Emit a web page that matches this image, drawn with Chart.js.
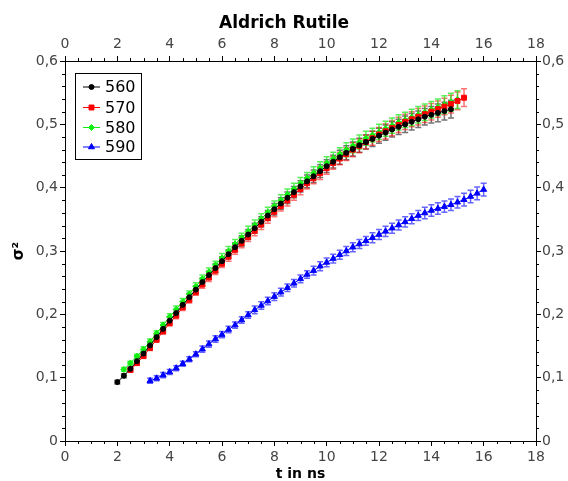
<!DOCTYPE html>
<html>
<head>
<meta charset="utf-8">
<script src="https://cdn.jsdelivr.net/npm/chart.js@4/dist/chart.umd.min.js"></script>
<style>
  html, body { margin: 0; background: #fff; }
  #wrap { width: 568px; height: 481px; }
</style>
</head>
<body>
<div id="wrap"><canvas id="c"></canvas></div>
<script>
// Aldrich Rutile: sigma^2 vs time for four temperatures, with error bars.

const times = [
  2, 2.25, 2.5, 2.75, 3, 3.25, 3.5, 3.75, 4, 4.25, 4.5, 4.75, 5, 5.25, 5.5, 5.75,
  6, 6.25, 6.5, 6.75, 7, 7.25, 7.5, 7.75, 8, 8.25, 8.5, 8.75, 9, 9.25, 9.5, 9.75,
  10, 10.25, 10.5, 10.75, 11, 11.25, 11.5, 11.75, 12, 12.25, 12.5, 12.75, 13, 13.25,
  13.5, 13.75, 14, 14.25, 14.5, 14.75, 15, 15.25, 15.5, 15.75, 16,
];

// values aligned with `times`, null where the series has no point
const s560 = [
  0.093, 0.103, 0.114, 0.126, 0.138, 0.151, 0.164, 0.177, 0.190, 0.202, 0.215, 0.227,
  0.239, 0.251, 0.262, 0.273, 0.284, 0.295, 0.306, 0.316, 0.326, 0.336, 0.346, 0.356,
  0.366, 0.375, 0.384, 0.393, 0.402, 0.410, 0.418, 0.426, 0.434, 0.441, 0.448, 0.455,
  0.461, 0.467, 0.472, 0.477, 0.482, 0.487, 0.492, 0.496, 0.500, 0.504, 0.508, 0.512,
  0.515, 0.518, 0.521, 0.524, null, null, null, null, null,
];
const s570 = [
  null, null, 0.112, 0.123, 0.134, 0.147, 0.160, 0.173, 0.186, 0.198, 0.211, 0.223,
  0.235, 0.247, 0.258, 0.269, 0.280, 0.291, 0.302, 0.312, 0.322, 0.332, 0.342, 0.352,
  0.362, 0.371, 0.380, 0.389, 0.398, 0.407, 0.415, 0.423, 0.431, 0.439, 0.446, 0.453,
  0.460, 0.466, 0.472, 0.478, 0.484, 0.489, 0.494, 0.499, 0.504, 0.508, 0.512, 0.516,
  0.520, 0.524, 0.528, 0.532, 0.537, 0.542, null, null, null,
];
const s580 = [
  null, 0.113, 0.123, 0.134, 0.145, 0.157, 0.170, 0.183, 0.196, 0.208, 0.220, 0.232,
  0.244, 0.256, 0.267, 0.278, 0.289, 0.300, 0.311, 0.321, 0.331, 0.341, 0.351, 0.361,
  0.371, 0.380, 0.389, 0.398, 0.407, 0.415, 0.423, 0.431, 0.439, 0.446, 0.453, 0.460,
  0.466, 0.472, 0.478, 0.483, 0.488, 0.493, 0.498, 0.503, 0.507, 0.511, 0.515, 0.519,
  0.523, 0.527, 0.531, 0.535, 0.539, null, null, null, null,
];
const s590 = [
  null, null, null, null, null, 0.095, 0.099, 0.104, 0.109, 0.115, 0.122, 0.129,
  0.137, 0.145, 0.153, 0.161, 0.168, 0.176, 0.183, 0.191, 0.199, 0.207, 0.214, 0.221,
  0.228, 0.235, 0.242, 0.249, 0.256, 0.263, 0.269, 0.276, 0.282, 0.288, 0.294, 0.300,
  0.306, 0.311, 0.316, 0.321, 0.326, 0.331, 0.336, 0.341, 0.346, 0.351, 0.356, 0.360,
  0.364, 0.367, 0.370, 0.373, 0.377, 0.381, 0.386, 0.391, 0.397,
];

// half-widths of the error bars, one per drawn point (52 each)
const errUpper = [
  0.003, 0.003, 0.003, 0.004, 0.004, 0.004, 0.004, 0.005, 0.005, 0.005, 0.005, 0.006,
  0.006, 0.006, 0.006, 0.007, 0.007, 0.007, 0.007, 0.008, 0.008, 0.008, 0.008, 0.008,
  0.009, 0.009, 0.009, 0.009, 0.009, 0.010, 0.010, 0.010, 0.010, 0.010, 0.011, 0.011,
  0.011, 0.011, 0.011, 0.012, 0.012, 0.012, 0.012, 0.012, 0.013, 0.013, 0.013, 0.013,
  0.013, 0.014, 0.014, 0.014,
];
const errBlue = [
  0.004, 0.004, 0.004, 0.004, 0.004, 0.004, 0.004, 0.004, 0.005, 0.005, 0.005, 0.005,
  0.005, 0.005, 0.005, 0.005, 0.006, 0.006, 0.006, 0.006, 0.006, 0.006, 0.006, 0.006,
  0.006, 0.007, 0.007, 0.007, 0.007, 0.007, 0.007, 0.007, 0.007, 0.007, 0.008, 0.008,
  0.008, 0.008, 0.008, 0.008, 0.008, 0.008, 0.009, 0.009, 0.009, 0.009, 0.009, 0.009,
  0.010, 0.010, 0.010, 0.010,
];

const FONT = "'DejaVu Sans', sans-serif";

function points(vals) {
  return times.map((t, i) => (vals[i] == null ? null : { x: t, y: vals[i] })).filter(Boolean);
}

function series(label, vals, err, color, errColor, style, radius) {
  return {
    label, data: points(vals), err, errColor,
    borderColor: color, backgroundColor: color, borderWidth: 1,
    pointStyle: style, pointRadius: radius, pointBorderWidth: 1,
    showLine: true, xAxisID: "x", yAxisID: "y",
  };
}

// error bars drawn from each dataset's `err` array through the y scale
const errorBars = {
  id: "errorBars",
  beforeDatasetsDraw(chart) {
    const { ctx } = chart;
    const ys = chart.scales.y;
    ctx.save();
    ctx.lineWidth = 1.5;
    chart.data.datasets.forEach((ds, di) => {
      const meta = chart.getDatasetMeta(di);
      ctx.strokeStyle = ds.errColor;
      meta.data.forEach((el, k) => {
        const e = ds.err[k], v = ds.data[k].y;
        const top = ys.getPixelForValue(v + e), bot = ys.getPixelForValue(v - e);
        ctx.beginPath();
        ctx.moveTo(el.x, top); ctx.lineTo(el.x, bot);
        ctx.moveTo(el.x - 3, top); ctx.lineTo(el.x + 3, top);
        ctx.moveTo(el.x - 3, bot); ctx.lineTo(el.x + 3, bot);
        ctx.stroke();
      });
    });
    ctx.restore();
  },
};

// short minor ticks on all four sides
const minorTicks = {
  id: "minorTicks",
  afterDraw(chart) {
    const { ctx, chartArea: a, scales } = chart;
    ctx.save();
    ctx.strokeStyle = "#000";
    ctx.lineWidth = 1;
    ctx.beginPath();
    for (let k = 1; k < 36; k++) {
      if (k % 4 === 0) continue;
      const px = Math.round(scales.x.getPixelForValue(k * 0.5)) + 0.5;
      ctx.moveTo(px, a.bottom); ctx.lineTo(px, a.bottom + 3);
      ctx.moveTo(px, a.top); ctx.lineTo(px, a.top - 3);
    }
    for (let k = 1; k < 30; k++) {
      if (k % 5 === 0) continue;
      const py = Math.round(scales.y.getPixelForValue(k * 0.02)) + 0.5;
      ctx.moveTo(a.left - 3, py); ctx.lineTo(a.left, py);
      ctx.moveTo(a.right, py); ctx.lineTo(a.right + 3, py);
    }
    ctx.stroke();
    ctx.restore();
  },
};

// boxed legend in the top-left corner of the plot
const boxLegend = {
  id: "boxLegend",
  afterDraw(chart) {
    const { ctx } = chart;
    ctx.save();
    ctx.fillStyle = "#fff";
    ctx.fillRect(75.5, 73.5, 66, 86);
    ctx.strokeStyle = "#000";
    ctx.lineWidth = 1;
    ctx.strokeRect(75.5, 73.5, 66, 86);
    const rows = [87, 107.5, 127.5, 147];
    chart.data.datasets.forEach((ds, i) => {
      const y = rows[i];
      ctx.strokeStyle = ds.borderColor;
      ctx.beginPath(); ctx.moveTo(83, y); ctx.lineTo(100, y); ctx.stroke();
      ctx.fillStyle = ds.backgroundColor;
      Chart.helpers.drawPoint(ctx, { pointStyle: ds.pointStyle, radius: ds.pointRadius, borderWidth: 1 }, 91.5, y);
      ctx.fillStyle = "#000";
      ctx.font = "16px " + FONT;
      ctx.textBaseline = "middle";
      ctx.fillText(ds.label, 105, y + 1);
    });
    ctx.restore();
  },
};

const yFmt = (v) => (Math.abs(v) < 1e-9 ? "0" : v.toFixed(1).replace(".", ","));

function axis(pos, extra) {
  const isX = pos === "top" || pos === "bottom";
  return Object.assign({
    type: "linear", position: pos,
    min: 0, max: isX ? 18 : 0.6,
    ticks: {
      stepSize: isX ? 2 : 0.1, color: "#444", padding: isX ? 3 : 2,
      font: { family: FONT, size: 14 }, maxRotation: 0,
      callback: isX ? (v) => String(v) : yFmt,
    },
    grid: { drawOnChartArea: false, tickLength: 5, color: "#000" },
    border: { display: true, color: "#000", width: 1 },
  }, extra);
}

new Chart(document.getElementById("c"), {
  type: "scatter",
  data: {
    datasets: [
      series("560", s560, errUpper, "#000000", "rgba(40,40,40,0.65)", "circle", 2.5),
      series("570", s570, errUpper, "#ff0000", "rgba(255,0,0,0.55)", "rect", 3.5),
      series("580", s580, errUpper, "#11ee11", "rgba(0,230,0,0.65)", "rectRot", 3),
      series("590", s590, errBlue, "#0000ff", "rgba(0,0,255,0.6)", "triangle", 3.5),
    ],
  },
  options: {
    responsive: true, maintainAspectRatio: false, animation: false, devicePixelRatio: 1,
    layout: { padding: 0 },
    plugins: {
      legend: { display: false },
      tooltip: { enabled: false },
      title: {
        display: true, text: "Aldrich Rutile", color: "#000",
        font: { family: FONT, size: 17, weight: "bold", lineHeight: 1 },
        padding: { top: 15, bottom: 4 },
      },
    },
    scales: {
      x: axis("bottom", {
        title: { display: true, text: "t in ns", color: "#000", padding: { top: 0, bottom: 0 },
                 font: { family: FONT, size: 14, weight: "bold", lineHeight: 1 } },
        afterFit: (s) => { s.height = 40; },
      }),
      x2: axis("top", { afterFit: (s) => { s.height = 25; } }),
      y: axis("left", {
        title: { display: true, text: "σ²", color: "#000", padding: { top: 10, bottom: 0 },
                 font: { family: FONT, size: 15, weight: "bold" } },
        afterFit: (s) => { s.width = 65; },
      }),
      y2: axis("right", { ticks: { stepSize: 0.1, color: "#444", padding: 1,
        font: { family: FONT, size: 14 }, callback: yFmt },
        afterFit: (s) => { s.width = 32; } }),
    },
  },
  plugins: [errorBars, minorTicks, boxLegend],
});
</script>
</body>
</html>
